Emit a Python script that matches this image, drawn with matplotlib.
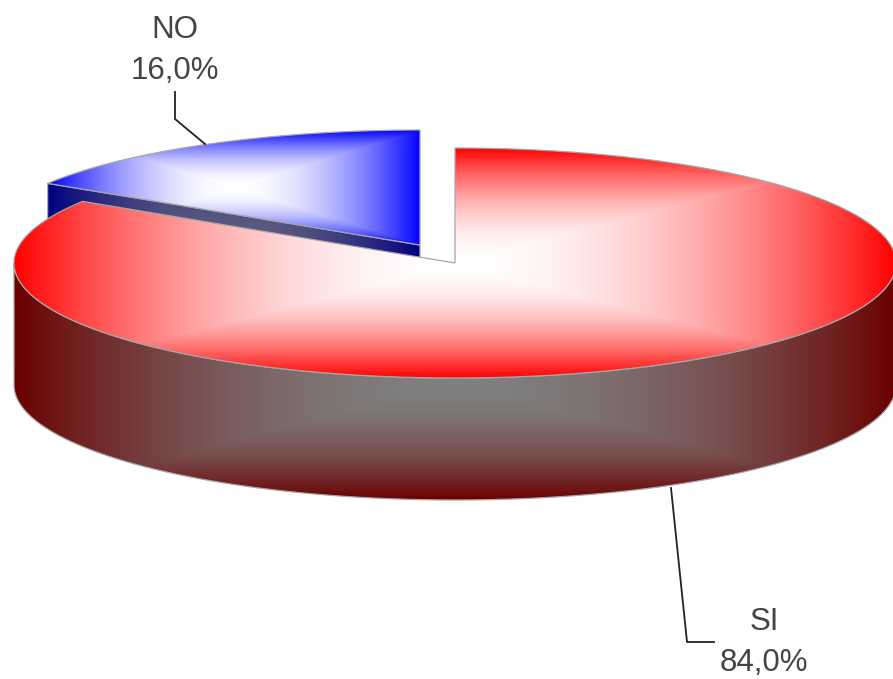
import numpy as np
import matplotlib
matplotlib.use("Agg")
import matplotlib.pyplot as plt
from matplotlib.path import Path
from matplotlib.patches import PathPatch

# Survey result
categories = ["SI", "NO"]
shares = [84.0, 16.0]
label_lines = {"SI": (764, 622, 663), "NO": (175, 30, 71)}
leader_x = {"SI": [671, 687, 714], "NO": [175, 175, 205]}
leader_y = {"SI": [488, 642, 642], "NO": [92, 119, 144]}

# Pie geometry in figure pixels
CX, CY = 455.0, 263.0
RX, RY = 441.0, 115.0
DEPTH = 122.0
EXPLODE = {"SI": (0.0, 0.0), "NO": (-35.0, -18.0)}
GAMMA = 1.9
EDGE = "#a6a6a6"

W, H = 893, 679
fig = plt.figure(figsize=(W / 100, H / 100), dpi=100, facecolor="white")
ax = fig.add_axes([0, 0, 1, 1])
ax.set_xlim(0, W)
ax.set_ylim(H, 0)
ax.axis("off")

layer = [2]


def pyramid_fill(box, outer, inner, clip):
    """Rectangular path gradient from inner colour at box centre to outer at its edges."""
    x0, x1, y0, y1 = box
    xs = np.linspace(max(x0, 0), min(x1, W), 500)
    ys = np.linspace(max(y0, 0), min(y1, H), 400)
    xx, yy = np.meshgrid(xs, ys)
    u = np.abs(xx - (x0 + x1) / 2) / ((x1 - x0) / 2)
    v = np.abs(yy - (y0 + y1) / 2) / ((y1 - y0) / 2)
    t = np.clip(np.maximum(u, v), 0, 1)[..., None] ** GAMMA
    rgb = np.array(inner) * (1 - t) + np.array(outer) * t
    im = ax.imshow(rgb, extent=(xs[0], xs[-1], ys[-1], ys[0]), aspect="auto",
                   interpolation="bilinear", zorder=layer[0])
    patch = PathPatch(clip, transform=ax.transData, facecolor="none", edgecolor="none")
    ax.add_patch(patch)
    im.set_clip_path(patch)
    ax.add_patch(PathPatch(clip, facecolor="none", edgecolor=EDGE, lw=0.9, zorder=layer[0] + 0.5))
    layer[0] += 1


def rim(dx, dy, start, stop):
    """Points on the ellipse rim, angles clockwise from the top in degrees."""
    th = np.radians(np.linspace(start, stop, 240))
    return np.column_stack([CX + dx + RX * np.sin(th), CY + dy - RY * np.cos(th)])


fractions = np.array(shares) / sum(shares)
si_sweep = 360.0 * fractions[categories.index("SI")]

# Exploded NO slice: side wall first, then its top
dx, dy = EXPLODE["NO"]
no_top = rim(dx, dy, si_sweep, 360.0)
apex = np.array([[CX + dx, CY + dy]])
no_outline = np.vstack([apex, no_top, apex])
left_pt, right_pt = no_top[0], apex[0]
wall = np.array([left_pt, right_pt, right_pt + [0, DEPTH], left_pt + [0, DEPTH], left_pt])
pyramid_fill((left_pt[0], right_pt[0], CY + dy - RY, right_pt[1] + DEPTH),
             (0, 0, 0.5), (0.36, 0.36, 0.5), Path(wall))
pyramid_fill((left_pt[0], right_pt[0], CY + dy - RY, right_pt[1]),
             (0, 0, 1), (1, 1, 1), Path(no_outline))

# SI slice: outer wall along the front half, then its top
front = rim(0, 0, 90.0, 270.0)
si_wall = np.vstack([front, (front + [0, DEPTH])[::-1], front[:1]])
pyramid_fill((CX - RX, CX + RX, CY, CY + RY + DEPTH),
             (0.42, 0, 0), (0.5, 0.5, 0.5), Path(si_wall))
si_top = rim(0, 0, 0.0, si_sweep)
apex = np.array([[CX, CY]])
si_outline = np.vstack([apex, si_top, apex])
pyramid_fill((CX - RX, CX + RX, CY - RY, CY + RY),
             (1, 0, 0), (1, 1, 1), Path(si_outline))

# Category and percentage labels with leader lines
for name, share in zip(categories, shares):
    x, y_name, y_value = label_lines[name]
    for y, s in ((y_name, name), (y_value, f"{share:.1f}%".replace(".", ","))):
        ax.text(x, y, s, ha="center", va="center", fontsize=22.5,
                family="Liberation Sans", color="#444444", zorder=50)
    ax.plot(leader_x[name], leader_y[name], color="#222222", lw=1.3, zorder=49)

fig.savefig("out.png", dpi=100, facecolor="white")
